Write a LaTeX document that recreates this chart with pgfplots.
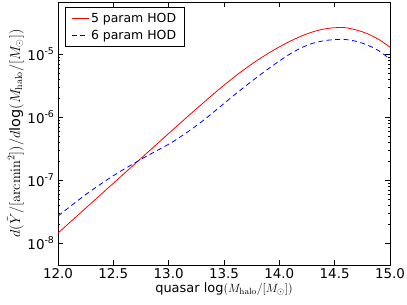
\documentclass[border=0pt]{standalone}
\usepackage[no-math]{fontspec}
\setmainfont{DejaVu Sans}
\usepackage{pgfplots}
\pgfplotsset{compat=1.18}
\begin{document}
\begin{tikzpicture}
\begin{axis}[
  name=ax,
  scale only axis,
  width=332bp, height=263bp,
  xmin=12, xmax=15,
  ymode=log,
  ymin=4.5e-9, ymax=6.7e-5,
  xtick={12,12.5,13,13.5,14,14.5,15},
  xticklabel style={/pgf/number format/.cd, fixed, fixed zerofill, precision=1, assume math mode=true},
  ytick={1e-8,1e-7,1e-6,1e-5},
  yticklabels={10\textsuperscript{-8},10\textsuperscript{-7},10\textsuperscript{-6},10\textsuperscript{-5}},
  tick label style={font=\fontsize{13.5}{15}\selectfont},
  tick align=inside,
  major tick length=5bp,
  minor tick length=2.5bp,
  tick style={black, line width=0.5pt},
  axis line style={line width=0.8pt},
  xlabel={quasar log$(M_{\rm halo}/[M_\odot])$},
  ylabel={$d(\tilde{Y}/[\mathrm{arcmin}^2])/d$log$(M_{\rm halo}/[M_\odot])$},
  xlabel style={font=\fontsize{13}{15}\selectfont, yshift=3bp},
  ylabel style={font=\fontsize{14.5}{16}\selectfont, yshift=-3bp},
  legend cell align=left,
  legend style={at={(0,1)}, anchor=north west, xshift=7bp, yshift=-5bp,
    draw=black, line width=0.6pt, font=\fontsize{12.5}{14}\selectfont,
    inner xsep=6bp, inner ysep=4bp, row sep=2bp,
    /tikz/every even column/.append style={column sep=12bp}},
  legend image code/.code={\draw[#1, line width=0.8pt] (0bp,0bp) -- (17bp,0bp);},
]
\addplot[red, line width=0.8pt, smooth] coordinates {
(12.0,1.445e-8) (12.25,3.59e-8) (12.5,8.91e-8) (12.75,2.213e-7) (13.0,5.495e-7)
(13.1,7.89e-7) (13.2,1.130e-6) (13.3,1.611e-6) (13.4,2.286e-6) (13.5,3.206e-6)
(13.6,4.426e-6) (13.7,5.998e-6) (13.8,7.943e-6) (13.9,1.028e-5) (14.0,1.300e-5)
(14.1,1.607e-5) (14.2,1.932e-5) (14.3,2.244e-5) (14.4,2.489e-5) (14.5,2.618e-5)
(14.6,2.618e-5) (14.7,2.399e-5) (14.8,2.089e-5) (14.9,1.698e-5) (15.0,1.288e-5)
};
\addlegendentry{5 param HOD}
\addplot[blue, line width=0.8pt, dash pattern=on 5bp off 3.5bp, smooth] coordinates {
(12.0,2.69e-8) (12.25,5.89e-8) (12.5,1.175e-7) (12.75,2.138e-7) (13.0,3.715e-7)
(13.1,4.786e-7) (13.2,6.31e-7) (13.3,8.51e-7) (13.4,1.175e-6) (13.5,1.641e-6)
(13.6,2.291e-6) (13.7,3.162e-6) (13.8,4.315e-6) (13.9,5.821e-6) (14.0,7.762e-6)
(14.1,1.012e-5) (14.2,1.259e-5) (14.3,1.479e-5) (14.4,1.622e-5) (14.5,1.698e-5)
(14.6,1.698e-5) (14.7,1.585e-5) (14.8,1.380e-5) (14.9,1.122e-5) (15.0,8.32e-6)
};
\addlegendentry{6 param HOD}
\end{axis}
\pgfresetboundingbox
\path ([shift={(-58bp,-40bp)}]ax.south west) rectangle ([shift={(17bp,2bp)}]ax.north east);
\end{tikzpicture}
\end{document}
